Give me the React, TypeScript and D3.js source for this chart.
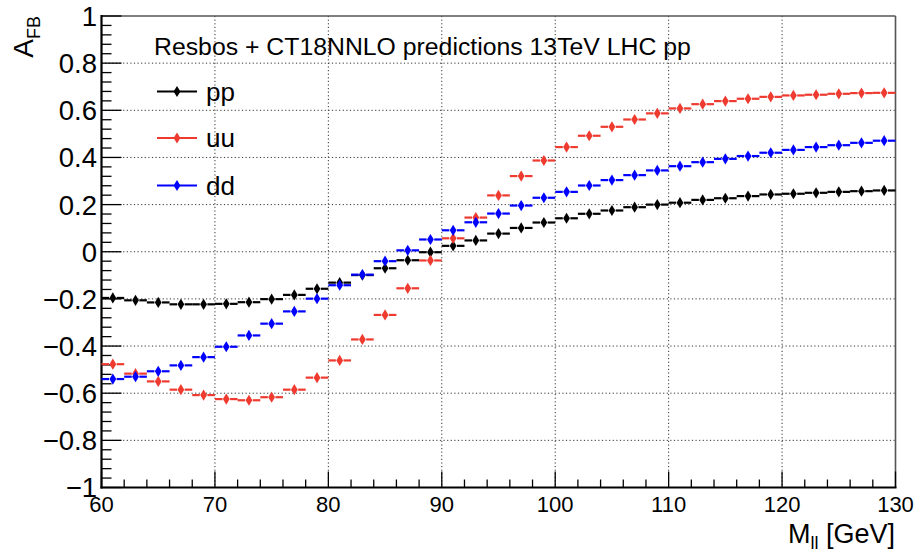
import React from "react";
import * as d3 from "d3";

// bin centres in GeV (2 GeV bins from 60 to 130)
const massBins = [
	61, 63, 65, 67, 69, 71, 73, 75, 77, 79, 81, 83, 85, 87, 89, 91, 93, 95, 97, 99, 101, 103, 105, 107, 109, 111, 113,
	115, 117, 119, 121, 123, 125, 127, 129,
];
const binHalfWidth = 1;

const afbPP = [
	-0.196, -0.206, -0.215, -0.223, -0.223, -0.221, -0.214, -0.201, -0.183, -0.157, -0.131, -0.099, -0.07, -0.036, -0.002,
	0.025, 0.048, 0.077, 0.101, 0.124, 0.142, 0.161, 0.175, 0.189, 0.2, 0.208, 0.22, 0.227, 0.236, 0.243, 0.246, 0.25,
	0.254, 0.257, 0.26,
];
const afbUU = [
	-0.477, -0.517, -0.55, -0.585, -0.608, -0.625, -0.63, -0.617, -0.585, -0.534, -0.461, -0.372, -0.268, -0.155, -0.037,
	0.057, 0.145, 0.239, 0.321, 0.387, 0.444, 0.492, 0.53, 0.561, 0.587, 0.608, 0.626, 0.639, 0.649, 0.657, 0.663, 0.666,
	0.67, 0.673, 0.674,
];
const afbDD = [
	-0.54, -0.53, -0.507, -0.482, -0.447, -0.403, -0.355, -0.305, -0.253, -0.199, -0.142, -0.097, -0.04, 0.006, 0.052,
	0.091, 0.125, 0.162, 0.196, 0.229, 0.254, 0.281, 0.304, 0.325, 0.345, 0.363, 0.38, 0.394, 0.406, 0.42, 0.432, 0.444,
	0.452, 0.462, 0.471,
];

const seriesNames = ["pp", "uu", "dd"];
const seriesColors = ["#000000", "#ee3a2f", "#0000ff"];
const seriesValues = [afbPP, afbUU, afbDD];

const title = "Resbos + CT18NNLO predictions 13TeV LHC pp";

const W = 917;
const H = 554;
const FONT = "'Liberation Sans', Arial, Helvetica, sans-serif";

function diamond(cx: number, cy: number, hw = 3.4, hh = 5.6) {
	return `M${cx},${cy - hh}L${cx + hw},${cy}L${cx},${cy + hh}L${cx - hw},${cy}Z`;
}

export default function App() {
	const x = d3.scaleLinear().domain([60, 130]).range([101.5, 895.5]);
	const y = d3.scaleLinear().domain([-1, 1]).range([487.5, 16]);
	const [x0, x1] = x.range();
	const [y0, y1] = y.range();
	const fmt = d3.format("~g");

	const xMajor = x.ticks(7);
	const xMinor = d3.range(60, 130.001, 2);
	const yMajor = y.ticks(10);
	const yMinor = d3.range(-1, 1.0001, 0.04);

	const gap = 3.8;

	return (
		<svg
			width={W}
			height={H}
			style={{ position: "absolute", left: 0, top: 0, background: "#fff" }}
			fontFamily={FONT}
		>
			{/* grid */}
			<g stroke="#333" strokeWidth={1} strokeDasharray="1.2 2.4">
				{xMajor
					.filter((t) => t > 60 && t < 130)
					.map((t) => (
						<line key={"gx" + t} x1={x(t)} x2={x(t)} y1={y1} y2={y0} />
					))}
				{yMajor
					.filter((t) => t > -1 && t < 1)
					.map((t) => (
						<line key={"gy" + t} x1={x0} x2={x1} y1={y(t)} y2={y(t)} />
					))}
			</g>

			{/* frame top / right */}
			<g stroke="#555" strokeWidth={1.6} fill="none">
				<line x1={x0} x2={x1} y1={y1} y2={y1} />
				<line x1={x1} x2={x1} y1={y1} y2={y0} />
			</g>

			{/* ticks */}
			<g stroke="#000" strokeWidth={1.3}>
				{xMinor.map((t) => {
					const major = Math.abs(t % 10) < 1e-6;
					return <line key={"tx" + t} x1={x(t)} x2={x(t)} y1={y0} y2={y0 - (major ? 16 : 8)} />;
				})}
				{yMinor.map((t, i) => {
					const major = i % 5 === 0;
					return <line key={"ty" + i} x1={x0} x2={x0 + (major ? 20 : 10)} y1={y(t)} y2={y(t)} />;
				})}
			</g>

			{/* axes */}
			<g stroke="#000" strokeWidth={2.2}>
				<line x1={x0} x2={x0} y1={y1 - 1} y2={y0 + 1} />
				<line x1={x0 - 1} x2={x1 + 1} y1={y0} y2={y0} />
			</g>

			{/* data */}
			{seriesValues.map((vals, s) => (
				<g key={seriesNames[s]} stroke={seriesColors[s]} fill={seriesColors[s]}>
					{vals.map((v, i) => {
						const c = massBins[i];
						const cx = x(c);
						const cy = y(v);
						return (
							<g key={i}>
								<line x1={x(c - binHalfWidth)} x2={cx - gap} y1={cy} y2={cy} strokeWidth={2.2} />
								<line x1={cx + gap} x2={x(c + binHalfWidth)} y1={cy} y2={cy} strokeWidth={2.2} />
								<path d={diamond(cx, cy)} stroke="none" />
							</g>
						);
					})}
				</g>
			))}

			{/* tick labels */}
			<g fontSize={22} textAnchor="middle" fill="#000">
				{xMajor.map((t) => (
					<text key={"lx" + t} x={x(t)} y={512}>
						{fmt(t)}
					</text>
				))}
			</g>
			<g fontSize={27.5} textAnchor="end" fill="#000">
				{yMajor.map((t) => (
					<text key={"ly" + t} x={97} y={y(t)} dy="0.36em">
						{fmt(t)}
					</text>
				))}
			</g>

			{/* axis titles */}
			<text x={895} y={543} fontSize={27} textAnchor="end">
				M
				<tspan fontSize={18} dy={6}>
					ll
				</tspan>
				<tspan dy={-6}> [GeV]</tspan>
			</text>
			<text transform={`translate(33,${y1}) rotate(-90)`} fontSize={28} textAnchor="end">
				A
				<tspan fontSize={18} dy={7}>
					FB
				</tspan>
			</text>

			{/* title */}
			<text x={154} y={55} fontSize={24.8}>
				{title}
			</text>

			{/* legend */}
			{seriesNames.map((name, i) => {
				const ly = [91.5, 138, 185.5][i];
				return (
					<g key={"leg" + name}>
						<line x1={157} x2={197} y1={ly} y2={ly} stroke={seriesColors[i]} strokeWidth={2.2} />
						<path d={diamond(177, ly)} fill={seriesColors[i]} />
						<text x={206} y={ly} dy="0.36em" fontSize={26}>
							{name}
						</text>
					</g>
				);
			})}
		</svg>
	);
}
